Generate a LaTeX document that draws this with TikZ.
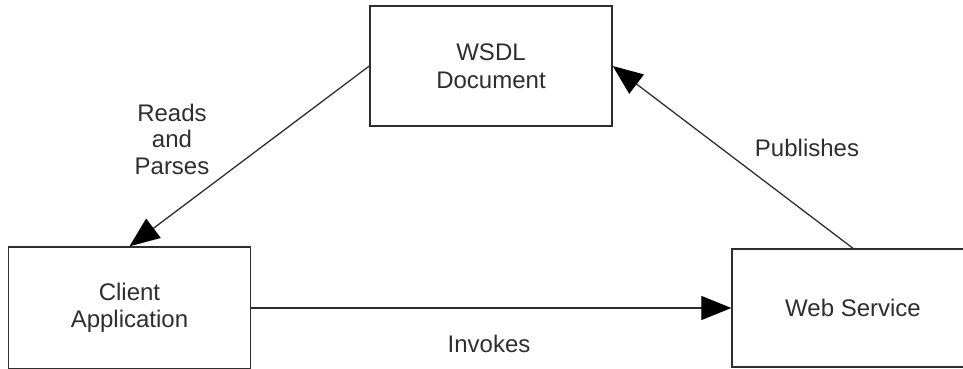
\documentclass[tikz,border=0pt]{standalone}
\usepackage{fontspec}
\setmainfont{Liberation Sans}
\usetikzlibrary{arrows.meta}
\definecolor{ink}{HTML}{2E2E2E}
\tikzset{
  box/.style={draw=ink, line width=1.4pt, fill=white, rectangle,
    minimum width=242pt, inner sep=0pt, align=center, text=ink,
    font=\fontsize{24}{27.5}\selectfont},
  link/.style={draw=ink, line width=1.3pt,
    -{Triangle[length=30pt,width=24pt,color=black,fill=black]}},
  lbl/.style={text=ink, align=center, inner sep=0pt,
    font=\fontsize{24}{26.5}\selectfont}
}
\begin{document}
\begin{tikzpicture}[x=1pt,y=-1pt]
  \useasboundingbox (0,0) rectangle (963,369);
  \begin{scope}
    \clip (0,0) rectangle (963,369);
    % the three parties
    \node[box, minimum height=120pt] (wsdl) at (491,66) {WSDL\\Document};
    \node[box, minimum height=122pt] (client) at (129.5,308) {Client\\Application};
    \node[box, minimum height=118pt] (ws) at (853,308) {Web Service};
    % interactions
    \draw[link] (wsdl.west) -- (client.north);
    \draw[link] (ws.north) -- (wsdl.east);
    \draw[link] (client.east) -- (ws.west);
  \end{scope}
  % interaction labels
  \node[lbl] (lreads) at (172,139) {Reads\\and\\Parses};
  \node[lbl] (lpub) at (807,148) {Publishes};
  \node[lbl] (linv) at (489,344) {Invokes};
\end{tikzpicture}
\end{document}
